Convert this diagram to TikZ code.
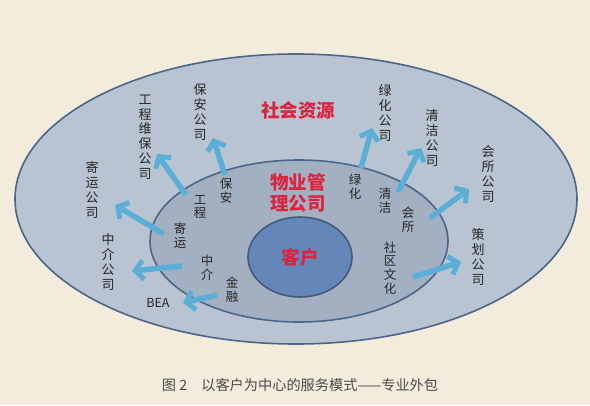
\documentclass[tikz,border=0pt]{standalone}
\usepackage{fontspec}
\newfontfamily\cjk{Noto Sans CJK SC}
\usetikzlibrary{arrows.meta,shapes.geometric}
\definecolor{bg}{HTML}{F3ECDD}
\definecolor{outerfill}{HTML}{B8C4D1}
\definecolor{midfill}{HTML}{A2B0C2}
\definecolor{innerfill}{HTML}{6586B9}
\definecolor{edge}{HTML}{4C6688}
\definecolor{redtxt}{HTML}{DC2340}
\definecolor{arrowblue}{HTML}{5BAFD7}
\definecolor{captxt}{HTML}{4A4A4A}
\tikzset{
  ring/.style={ellipse, draw=edge, line width=1.6pt, inner sep=0},
  lab/.style={font=\cjk\fontsize{13}{14.8}\selectfont, align=center, inner sep=0, text=black!85},
  ilab/.style={font=\cjk\fontsize{12.5}{13.8}\selectfont, align=center, inner sep=0, text=black!85},
  redlab/.style={font=\cjk\bfseries\fontsize{18.5}{20.5}\selectfont, align=center, inner sep=0, text=redtxt},
  flow/.style={draw=arrowblue, line width=5.5pt, -{Straight Barb[length=8pt,width=19pt,line width=5pt]}}
}
\begin{document}
\begin{tikzpicture}[x=1pt,y=-1pt]
\fill[bg] (0,0) rectangle (590,405);
\useasboundingbox (0,0) rectangle (590,405);
% rings
\node[ring, fill=outerfill, minimum width=562pt, minimum height=290pt] (outer) at (296,199) {};
\node[ring, fill=midfill, minimum width=298pt, minimum height=162pt] (mid) at (299,241) {};
\node[ring, fill=innerfill, draw=edge!90!black, minimum width=104pt, minimum height=80pt] (inner) at (300,257) {};
% red labels
\node[redlab] (client) at (300,257) {客户};
\node[redlab] (pm) at (298,193) {物业管\\理公司};
\node[redlab] (social) at (298,110) {社会资源};
% outer labels
\node[lab] (gcwb) at (145,137) {工\\程\\维\\保\\公\\司};
\node[lab] (ba) at (200,112) {保\\安\\公\\司};
\node[lab] (jy) at (92,190) {寄\\运\\公\\司};
\node[lab] (zj) at (108,262) {中\\介\\公\\司};
\node[lab, font=\cjk\fontsize{12.5}{13}\selectfont] (bea) at (158,303) {BEA};
\node[lab] (lh) at (385,113) {绿\\化\\公\\司};
\node[lab] (qj) at (432,138) {清\\洁\\公\\司};
\node[lab] (hs) at (488,174) {会\\所\\公\\司};
\node[lab] (ch) at (478,257) {策\\划\\公\\司};
% inner labels
\node[ilab] (iba) at (226,191) {保\\安};
\node[ilab] (igc) at (200,207) {工\\程};
\node[ilab] (ijy) at (180,236) {寄\\运};
\node[ilab] (izj) at (207,268) {中\\介};
\node[ilab] (ijr) at (232,290) {金\\融};
\node[ilab] (ilh) at (355,187) {绿\\化};
\node[ilab] (iqj) at (385,201) {清\\洁};
\node[ilab] (ihs) at (408,220) {会\\所};
\node[ilab] (isq) at (390,268) {社\\区\\文\\化};
% arrow ends
\coordinate (s1) at (186,195); \coordinate (e1) at (157,154);
\coordinate (s2) at (225,175); \coordinate (e2) at (213,138);
\coordinate (s3) at (164,234); \coordinate (e3) at (115,205);
\coordinate (s4) at (182,266); \coordinate (e4) at (132,271);
\coordinate (s5) at (217,295); \coordinate (e5) at (183,303);
\coordinate (s6) at (361,168); \coordinate (e6) at (372,128);
\coordinate (s7) at (398,192); \coordinate (e7) at (421,148);
\coordinate (s8) at (430,218); \coordinate (e8) at (469,189);
\coordinate (s9) at (413,277); \coordinate (e9) at (461,262);
\foreach \i in {1,...,9} { \draw[flow] (s\i) -- (e\i); }
% caption
\node[font=\cjk\fontsize{14.2}{16}\selectfont, text=captxt, inner sep=0] (cap) at (300,385) {图 2\hspace{1em}以客户为中心的服务模式——专业外包};
\end{tikzpicture}
\end{document}
